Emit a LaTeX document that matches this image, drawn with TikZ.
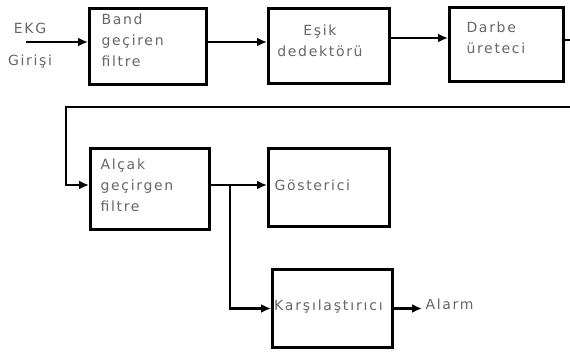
\documentclass[tikz,border=0pt]{standalone}
\usepackage{fontspec}
\setmainfont[LetterSpace=12]{DejaVu Sans}
\usetikzlibrary{arrows.meta}

\tikzset{
  blok/.style={draw, line width=3pt, anchor=north west, inner sep=0pt},
  yazi/.style={text=black!60, font=\fontsize{14}{21}\selectfont},
  ok/.style={line width=2.8pt, -{Latex[length=10pt,width=9pt]}},
}

\begin{document}
\begin{tikzpicture}[x=1pt,y=-1pt]
	\useasboundingbox (0,0) rectangle (570,352);
	% Kutular
	\node[blok, minimum width=117pt, minimum height=76pt] (band) at (88,7) {};
	\node[blok, minimum width=121pt, minimum height=75pt] (esik) at (267,7) {};
	\node[blok, minimum width=114pt, minimum height=74pt] (darbe) at (448,6) {};
	\node[blok, minimum width=119pt, minimum height=81pt] (alcak) at (89,147) {};
	\node[blok, minimum width=121pt, minimum height=78pt] (gosterici) at (267,147) {};
	\node[blok, minimum width=120pt, minimum height=78pt] (karsi) at (271,268) {};
	% Kutu yazilari
	\node[yazi, anchor=north west, align=left] at (98,10) {Band\\geçiren\\filtre};
	\node[yazi, align=center] at (320,41) {Eşik\\dedektörü};
	\node[yazi, anchor=west, align=left] at (463,38) {Darbe\\üreteci};
	\node[yazi, anchor=north west, align=left] at (97,155) {Alçak\\geçirgen\\filtre};
	\node[yazi, anchor=west] at (271,185) {Gösterici};
	\node[yazi, anchor=west, inner sep=0pt, font=\fontsize{14}{14}\selectfont\addfontfeature{LetterSpace=13}] at (274,307) {Karşılaştırıcı};
	% Giris ve cikis yazilari
	\node[yazi] (ekg) at (30,28) {EKG};
	\node[yazi] (girisi) at (30,62) {Girişi};
	\node[yazi, anchor=west] (alarm) at (422,304) {Alarm};
	% Baglantilar
	\coordinate (giris) at (26,42);
	\coordinate (sag) at (572,40);
	\coordinate (sol) at (66,107);
	\coordinate (dal) at (230,185);
	\draw[ok] (giris) -- (band.west |- giris);
	\draw[ok] (band.east |- giris) -- (esik.west |- giris);
	\draw[ok] (esik.east |- 0,38) -- (darbe.west |- 0,38);
	\draw[ok] (darbe.east |- sag) -- (sag) |- (sol) |- (alcak.west |- dal);
	\draw[ok] (alcak.east |- dal) -- (gosterici.west |- dal);
	\draw[ok] (dal) |- (karsi.west);
	\draw[ok] (karsi.east) -- (alarm.west |- karsi.east);
\end{tikzpicture}
\end{document}
